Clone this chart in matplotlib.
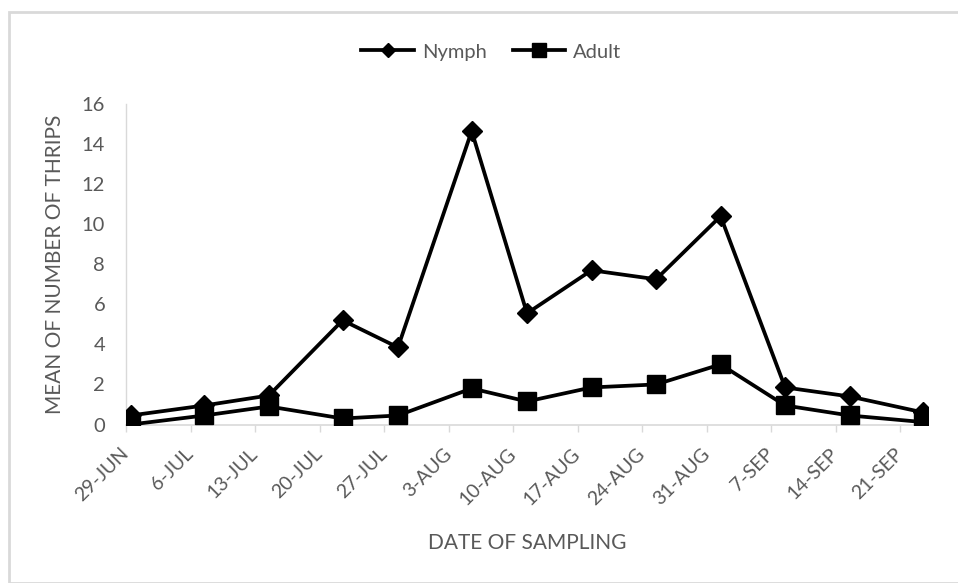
import matplotlib
matplotlib.use("Agg")
import matplotlib.pyplot as plt
from matplotlib.lines import Line2D
from matplotlib.patches import Rectangle
import pandas as pd

# ---- data ----
sample_dates = ["2019-06-29", "2019-07-07", "2019-07-14", "2019-07-22", "2019-07-28",
                "2019-08-05", "2019-08-11", "2019-08-18", "2019-08-25", "2019-09-01",
                "2019-09-08", "2019-09-15", "2019-09-23"]
nymph = [0.45, 0.95, 1.45, 5.2, 3.85, 14.65, 5.55, 7.7, 7.25, 10.4, 1.85, 1.4, 0.6]
adult = [0.0, 0.45, 0.9, 0.3, 0.45, 1.8, 1.15, 1.85, 2.0, 3.0, 0.95, 0.45, 0.12]
axis_start, axis_end = "2019-06-29", "2019-09-24"
y_ticks = [0, 2, 4, 6, 8, 10, 12, 14, 16]
x_label = "DATE OF SAMPLING"
y_label = "MEAN OF NUMBER OF THRIPS"
series_names = ["Nymph", "Adult"]

plt.rcParams['font.family'] = ['Lato', 'DejaVu Sans']
TXT = "#595959"
GRID = "#d9d9d9"

fig = plt.figure(figsize=(9.58, 5.83), dpi=100)
W, H = 958, 583
ax = fig.add_axes([126 / W, (H - 424.5) / H, (928 - 126) / W, (424.5 - 104) / H])

# Excel date axis: each point centered in its day slot
x = pd.to_datetime(sample_dates) + pd.Timedelta(hours=12)
ax.plot(x, nymph, color="black", lw=2.7, marker="D", markersize=10, zorder=3)
ax.plot(x, adult, color="black", lw=2.7, marker="s", markersize=13, zorder=3)

ax.set_xlim(pd.Timestamp(axis_start), pd.Timestamp(axis_end))
ax.set_ylim(0, 16)
ax.set_yticks(y_ticks)

ticks = pd.date_range(axis_start, "2019-09-21", freq="7D")
ax.set_xticks(ticks, [f"{d.day}-{d.strftime('%b').upper()}" for d in ticks])

for s in ["top", "right"]:
    ax.spines[s].set_visible(False)
ax.spines["bottom"].set_color(GRID)
ax.spines["left"].set_color(GRID)
ax.spines["bottom"].set_linewidth(1.2)
ax.spines["left"].set_linewidth(1.0)

ax.tick_params(axis="x", direction="out", length=5, width=1, color=GRID,
               labelcolor=TXT, pad=14, labelsize=14, labelrotation=45)
ax.tick_params(axis="y", length=0, labelsize=14.5, labelcolor=TXT, pad=15)
plt.setp(ax.get_xticklabels(), ha="right", va="center", rotation_mode="anchor")

ax.set_xlabel(x_label, fontsize=15, color=TXT, labelpad=18)
ax.set_ylabel(y_label, fontsize=15, color=TXT, labelpad=12)

handles = [Line2D([], [], color="black", lw=2.7, marker="D", markersize=7),
           Line2D([], [], color="black", lw=2.7, marker="s", markersize=10)]
fig.legend(handles, series_names, loc="center", bbox_to_anchor=(0.513, (H - 52) / H),
           ncol=2, frameon=False, fontsize=14.5, labelcolor=TXT,
           handlelength=2.6, handletextpad=0.4, columnspacing=1.3)

fig.patches.append(Rectangle((9 / W, 0), 1.0, (H - 12) / H, transform=fig.transFigure,
                             fill=False, edgecolor=GRID, linewidth=2.0, zorder=0))

fig.savefig("out.png", dpi=100)
